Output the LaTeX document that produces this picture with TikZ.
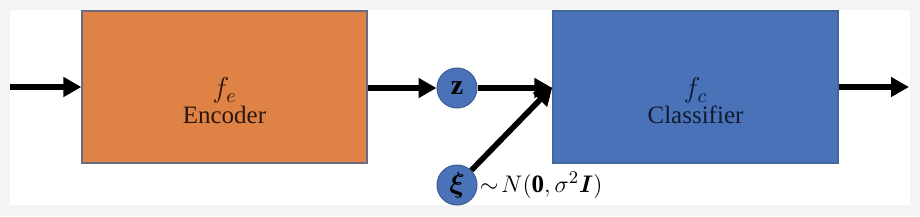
\documentclass[tikz,border=0pt]{standalone}
\usepackage{amsmath,amssymb}
\usepackage{fontspec}
\setmainfont{Liberation Serif}
\usepackage{xcolor}
\usepackage{tikz}
\usetikzlibrary{positioning, arrows.meta}

\definecolor{encorange}{HTML}{DF8245}
\definecolor{encedge}{HTML}{6C6A7E}
\definecolor{clsblue}{HTML}{4A72B8}
\definecolor{clsedge}{HTML}{41679F}
\definecolor{varedge}{HTML}{3A5A93}
\definecolor{enctext}{HTML}{2A160C}
\definecolor{clstext}{HTML}{101A30}
\definecolor{framegray}{HTML}{F4F4F4}

\newcommand{\fname}[1]{{\fontsize{14}{16}\selectfont$#1$}}

\begin{document}
\begin{tikzpicture}[
    x=0.5pt, y=-0.5pt,
    every node/.style={font=\fontsize{12.5}{14}\selectfont},
    block/.style={draw, line width=0.6pt, minimum width=142.5pt, minimum height=76pt, align=center},
    var/.style={circle, fill=clsblue, draw=varedge, line width=0.5pt, minimum size=20pt, inner sep=0pt, text=black},
    flow/.style={draw, line width=2.8pt, -{Triangle[length=9pt,width=9.5pt]}},
  ]
  \useasboundingbox (0,0) rectangle (920,216);
  \fill[framegray] (0,0) rectangle (920,216);
  \fill[white] (10,10) rectangle (910,205);

  \node[block, fill=encorange, draw=encedge, text=enctext] (enc) at (224.5,87) {\mbox{}\\[10pt]\fname{f_e}\\[-1pt]Encoder};
  \node[block, fill=clsblue, draw=clsedge, text=clstext] (cls) at (695.5,87) {\mbox{}\\[10pt]\fname{f_c}\\[-1pt]Classifier};
  \node[var] (z) at (457,88) {\fname{\mathbf{z}}};
  \node[var] (xi) at (457,185) {\fname{\boldsymbol{\xi}}};
  \node[right=0pt of xi, inner sep=1pt] (prior) {$\sim\!N(\mathbf{0},\sigma^2\boldsymbol{I})$};

  \coordinate (in) at (10,87);
  \coordinate (out) at (909,87);

  \draw[flow] (in) -- (enc.west);
  \draw[flow] (enc.east |- z) -- (z);
  \draw[flow] (z) -- (cls.west |- z);
  \draw[flow] (xi) -- (cls.west);
  \draw[flow] (cls.east) -- (out);
\end{tikzpicture}
\end{document}
